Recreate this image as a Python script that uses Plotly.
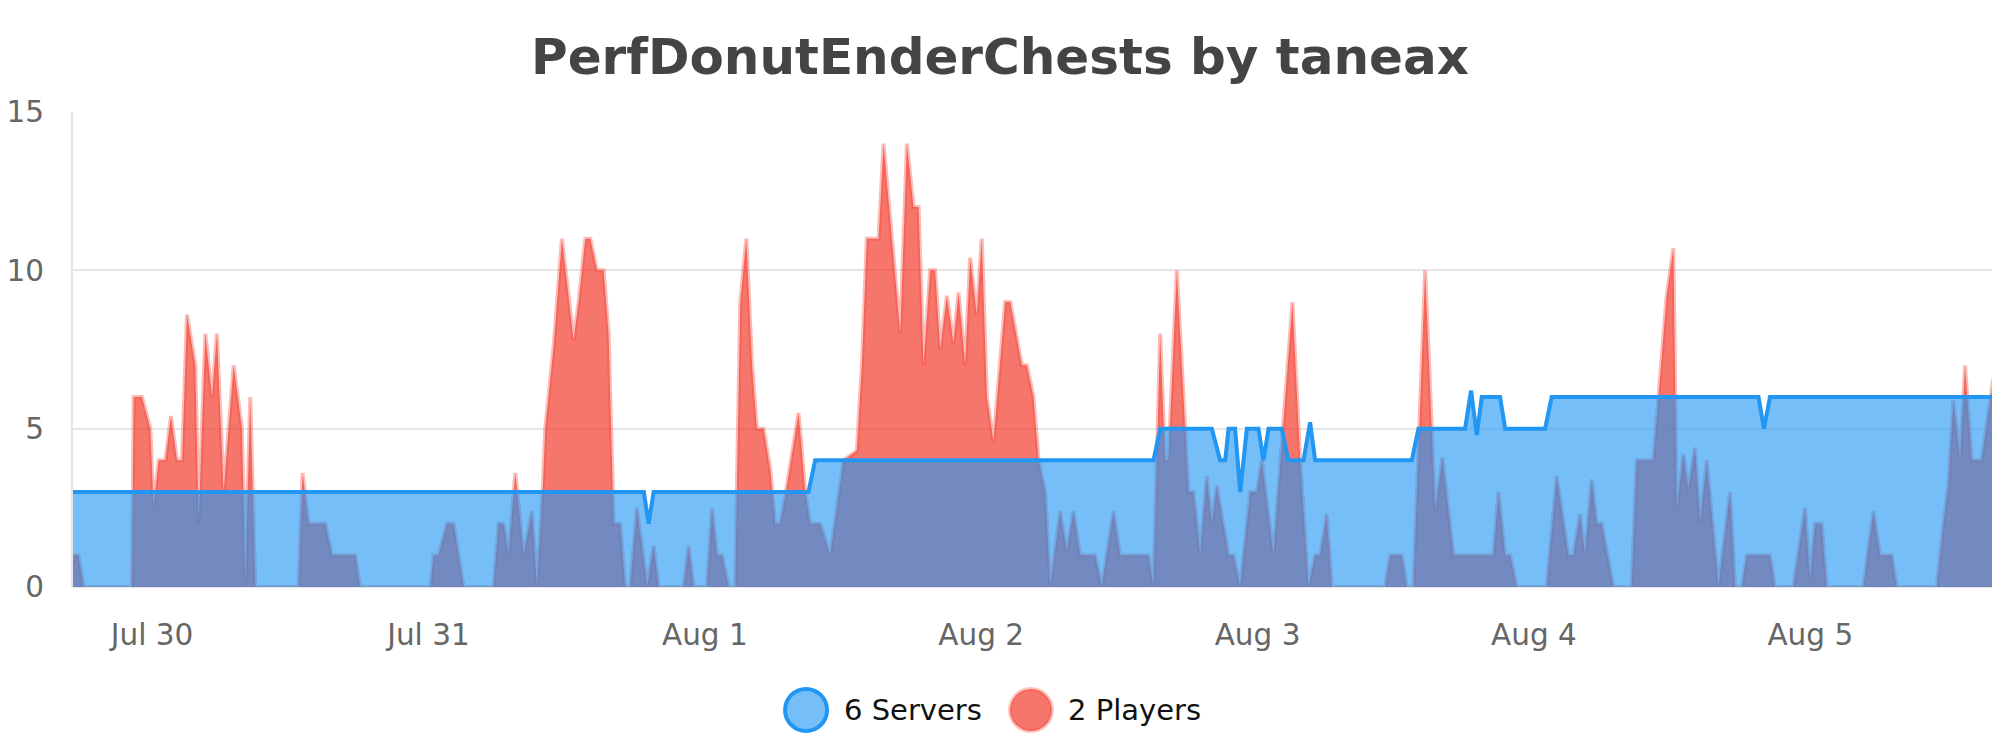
import pandas as pd
import plotly.graph_objects as go

BASE_DAY = pd.Timestamp("2023-07-30")

# sample times, hours after Jul 30 00:00
player_hours = [
    -6.87, -6.4, -5.95, -1.75, -1.6, -0.88, -0.16, 0.13, 0.57, 1.15, 1.64, 2.16,
    2.6, 3.03, 3.75, 4.04, 4.62, 5.2, 5.63, 6.21, 7.08, 7.8, 8.09, 8.52, 8.96,
    12.72, 13.07, 13.59, 15.04, 15.62, 17.64, 18.08, 24.16, 24.45, 24.88, 25.6,
    26.18, 27.05, 29.65, 30.09, 30.52, 30.96, 31.54, 32.26, 32.98, 33.42, 33.94,
    34.14, 34.87, 35.59, 36.6, 37.04, 37.62, 38.05, 38.63, 39.21, 39.64, 40.08,
    40.65, 41.09, 41.52, 42.1, 43.0, 43.55, 43.99, 46.16, 46.59, 47.03, 48.19,
    48.62, 49.06, 49.49, 50.07, 50.65, 50.8, 51.08, 51.6, 52.1, 52.52, 53.1,
    53.68, 54.11, 54.55, 55.13, 56.14, 56.72, 57.15, 58.02, 58.89, 59.61, 60.05,
    61.2, 61.64, 62.07, 63.09, 63.52, 64.97, 65.55, 66.12, 66.56, 66.99, 67.57,
    68.0, 68.44, 69.02, 69.59, 70.03, 70.61, 71.04, 71.62, 72.05, 72.49, 73.07,
    74.08, 74.52, 75.53, 75.96, 76.54, 76.98, 77.56, 78.0, 78.86, 79.44, 80.01,
    80.59, 81.9, 82.47, 83.49, 84.06, 86.53, 86.96, 87.54, 87.97, 88.26, 88.99,
    90.0, 90.44, 91.02, 91.59, 92.03, 92.46, 93.48, 93.91, 94.49, 95.36, 95.93,
    96.37, 97.38, 99.03, 99.7, 100.42, 101.0, 101.43, 102.01, 102.45, 107.08,
    107.51, 108.53, 108.96, 109.54, 109.97, 110.55, 111.42, 112.06, 113.01,
    116.48, 116.92, 117.5, 117.93, 118.51, 121.11, 121.98, 122.99, 123.42, 124.0,
    124.44, 125.02, 125.45, 125.88, 126.9, 128.49, 128.92, 130.37, 131.53, 132.11,
    132.4, 132.98, 133.41, 133.99, 134.43, 135.01, 136.02, 137.03, 137.47, 138.05,
    138.48, 140.5, 140.94, 142.53, 143.54, 143.98, 144.41, 144.99, 145.42, 148.61,
    149.48, 150.06, 151.07, 151.51, 154.98, 155.56, 155.99, 156.43, 157.01,
    157.44, 158.02, 158.89, 159.9, 160.48,
]
player_counts = [
    1, 1, 0, 0, 6, 6, 5, 2.5, 4, 4, 5.4, 4,
    4, 8.6, 7, 2, 8, 6, 8, 3, 7, 5, 0, 6, 0,
    0, 3.6, 2, 2, 1, 1, 0, 0, 1, 1, 2,
    2, 0, 0, 2, 2, 1, 3.6, 1, 2.4, 0, 3.2,
    5, 7.6, 11, 7.8, 9, 11, 11, 10, 10, 8, 2,
    2, 0, 0, 2.5, 0, 1.3, 0, 0, 1.3, 0, 0,
    2.5, 1, 1, 0, 0, 3.5, 9, 11, 7, 5, 5,
    3.7, 2, 2, 3.2, 5.5, 3, 2, 2, 1, 3, 4,
    4.3, 7, 11, 11, 14, 8, 14, 12, 12, 7, 10,
    10, 7.5, 9.2, 7.7, 9.3, 7, 10.4, 8.6, 11, 6, 4.6,
    9, 9, 7, 7, 6, 4, 3, 0, 2.4, 1.1, 2.4,
    1, 1, 0, 2.4, 1, 1, 0, 8, 4, 4, 10,
    3, 3, 1, 3.5, 2, 3.2, 1, 1, 0, 3, 3,
    4, 1, 9, 4, 0, 1, 1, 2.3, 0, 0,
    1, 1, 0, 0, 4, 10, 2.4, 4.1, 1,
    1, 3, 1, 1, 0, 0, 3.5, 1, 1, 2.3,
    1, 3.4, 2, 2, 0, 0, 4, 4, 9.2, 10.7,
    2.4, 4.2, 3.1, 4.4, 2, 4, 0, 3, 0, 0,
    1, 1, 0, 0, 2.5, 0.2, 2, 2, 0, 0,
    2.4, 1, 1, 0, 0, 2, 3.2, 5.9, 4,
    7, 4, 4, 6.6, 3.5,
]

server_hours = [
    -6.87, 42.7, 43.12, 43.55, 57.0, 57.58, 86.96, 87.54, 92.03, 92.75, 93.19,
    93.48, 94.05, 94.49, 95.07, 96.08, 96.51, 96.95, 98.1, 98.68, 99.99, 100.56,
    101.0, 109.39, 109.97, 114.02, 114.54, 115.04, 115.47, 117.06, 117.5, 120.97,
    121.54, 139.5, 139.98, 140.5, 160.48,
]
server_counts = [
    3, 3, 2, 3, 3, 4, 4, 5, 5, 4, 4,
    5, 5, 3, 5, 5, 4, 5, 5, 4, 4, 5.2,
    4, 4, 5, 5, 6.2, 4.8, 6, 6, 5, 5,
    6, 6, 5, 6, 6,
]

series_names = ["6 Servers", "2 Players"]
chart_title = "PerfDonutEnderChests by taneax"

BLUE = "#2196F3"
FONT = "DejaVu Sans"

# the page body adds 8px around the figure, so the figure is sized to fit
FIG_W, FIG_H = 1984, 734
VIEW_END_HOURS = 159.78  # right edge of the visible window


def to_times(hours):
    return BASE_DAY + pd.to_timedelta(hours, unit="h")


player_x = to_times(player_hours)
server_x = to_times(server_hours)

fig = go.Figure()
fig.add_trace(go.Scatter(
    x=player_x, y=player_counts, name=series_names[1], mode="lines",
    fill="tozeroy", fillcolor="rgba(244,67,54,0.73)",
    line=dict(color="rgba(244,67,54,0.35)", width=4),
    showlegend=False,
))
fig.add_trace(go.Scatter(
    x=server_x, y=server_counts, name=series_names[0], mode="lines",
    fill="tozeroy", fillcolor="rgba(33,150,243,0.62)",
    line=dict(color=BLUE, width=4),
    showlegend=False,
))

# hand-made legend with big round swatches
legend_y = -0.259
swatches = [
    (0.382, "rgba(33,150,243,0.62)", BLUE, series_names[0], 0.4007),
    (0.4992, "rgba(244,67,54,0.73)", "rgba(244,67,54,0.3)", series_names[1], 0.5175),
]
for cx, fill_c, line_c, label, tx in swatches:
    fig.add_shape(
        type="circle", xref="paper", yref="paper",
        xsizemode="pixel", ysizemode="pixel",
        xanchor=cx, yanchor=legend_y,
        x0=-21, x1=21, y0=-21, y1=21,
        fillcolor=fill_c, line=dict(color=line_c, width=4),
    )
    fig.add_annotation(
        x=tx, y=legend_y, xref="paper", yref="paper",
        text=label, showarrow=False, xanchor="left", yanchor="middle",
        font=dict(family=FONT, size=29, color="#111"),
    )

fig.update_layout(
    width=FIG_W, height=FIG_H,
    margin=dict(l=65, r=0, t=104, b=155),
    paper_bgcolor="white", plot_bgcolor="white",
    title=dict(
        text=chart_title, x=0.5, xref="container", xanchor="center",
        y=1 - 48 / FIG_H, yref="container", yanchor="middle",
        font=dict(family=FONT, size=50, color="#444", weight="bold"),
    ),
    font=dict(family=FONT),
    xaxis=dict(
        type="date", range=[player_x[0], to_times([VIEW_END_HOURS])[0]],
        tick0=BASE_DAY, dtick=86400000, tickformat="%b %-d",
        showgrid=False, zeroline=False, showline=False,
        ticks="outside", ticklen=22, tickcolor="rgba(0,0,0,0)",
        tickfont=dict(family=FONT, size=29.5, color="#666"),
    ),
    yaxis=dict(
        range=[0, 15], dtick=5, tick0=0,
        showgrid=True, gridcolor="#e6e6e6", gridwidth=2,
        zeroline=True, zerolinecolor="#e6e6e6", zerolinewidth=2,
        showline=True, linecolor="#e6e6e6", linewidth=2,
        ticks="outside", ticklen=21, tickcolor="rgba(0,0,0,0)",
        tickfont=dict(family=FONT, size=29.5, color="#666"),
        layer="below traces",
    ),
)

fig.write_html("out.html")
